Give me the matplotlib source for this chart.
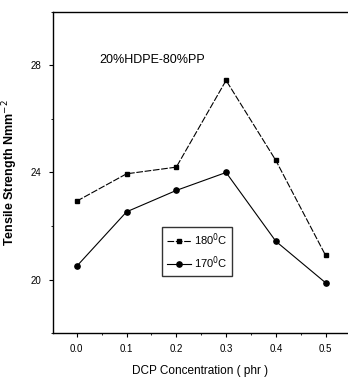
import numpy as np
import matplotlib
matplotlib.use('Agg')
import matplotlib.pyplot as plt
from matplotlib.ticker import MultipleLocator

plt.rcParams['font.family'] = ['Liberation Sans Narrow', 'Liberation Sans', 'DejaVu Sans']

# ---- data ----
dcp = [0.0, 0.1, 0.2, 0.3, 0.4, 0.5]
ts_180 = [22.93, 23.95, 24.2, 27.44, 24.45, 20.9]
ts_170 = [20.5, 22.53, 23.33, 24.0, 21.43, 19.88]
xtick_labels = ['0.0', '0.1', '0.2', '0.3', '0.4', '0.5']

fig = plt.figure(figsize=(3.48, 3.82), dpi=100)
ax = fig.add_axes([0.152, 0.128, 0.848, 0.841])

ax.plot(dcp, ts_180, color='black', lw=0.8, ls=(0, (6, 1.5)), marker='s', ms=3.5, label='180$^0$C')
ax.plot(dcp, ts_170, color='black', lw=0.8, ls='-', marker='o', ms=3.8, label='170$^0$C')

ax.set_xlim(-0.048, 0.545)
ax.set_ylim(18, 30)
ax.set_xticks(dcp)
ax.set_xticklabels(xtick_labels, fontsize=7)
ax.set_yticks([20, 24, 28])
ax.set_yticklabels(['20', '24', '28'], fontsize=7)
ax.xaxis.set_minor_locator(MultipleLocator(0.05))
ax.yaxis.set_minor_locator(MultipleLocator(2))
ax.tick_params(which='major', direction='out', length=3, width=0.8, pad=5)
ax.tick_params(which='minor', direction='out', length=1.5, width=0.6)
ax.spines['right'].set_visible(False)
for s in ['left', 'bottom', 'top']:
    ax.spines[s].set_linewidth(1.0)

ax.text(0.045, 28.1, '20%HDPE-80%PP', fontsize=9)
ax.set_xlabel('DCP Concentration ( phr )', fontsize=8.5, labelpad=8)
ax.set_ylabel('Tensile Strength Nmm$^{-2}$', fontsize=9, fontweight='bold',
              family=['Liberation Sans', 'DejaVu Sans'], labelpad=8)

ax.legend(loc='upper left', bbox_to_anchor=(0.37, 0.33), fontsize=8, frameon=True,
          fancybox=False, edgecolor='black', handlelength=2.2, handletextpad=0.3,
          borderpad=0.4, labelspacing=0.6, borderaxespad=0)

fig.savefig('out.png', dpi=100)
